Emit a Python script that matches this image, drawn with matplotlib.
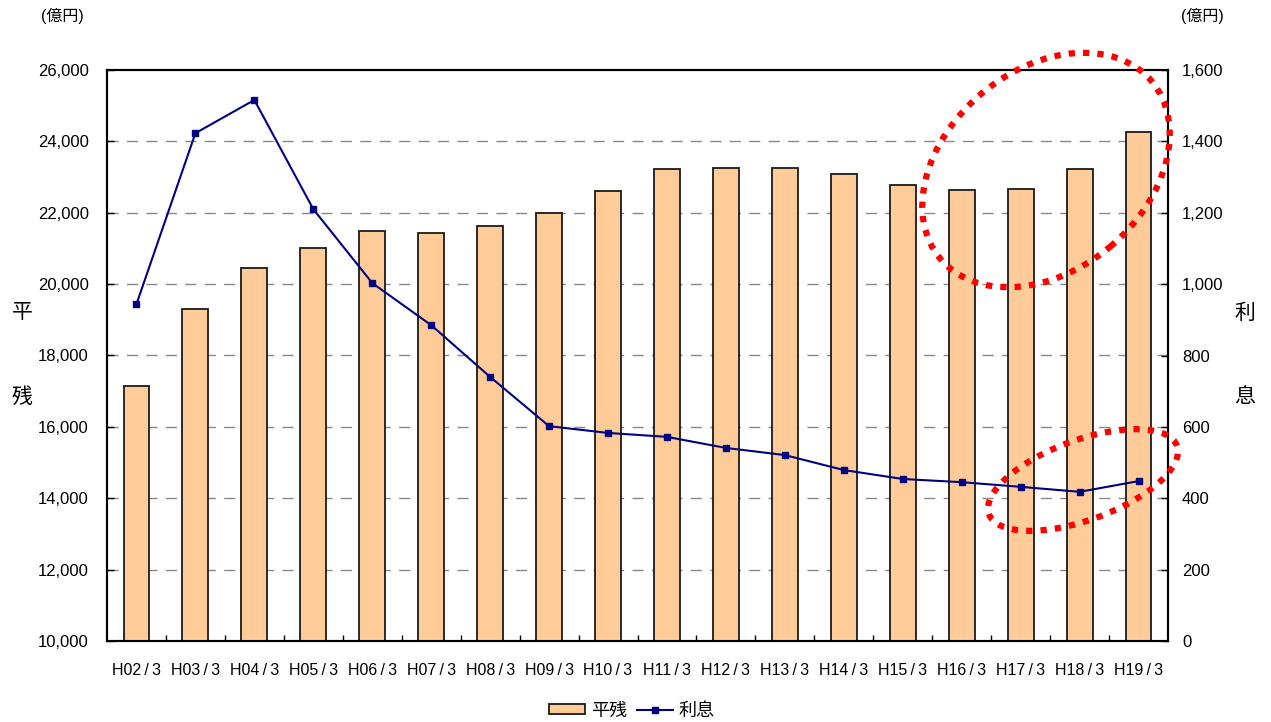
import matplotlib
matplotlib.use("Agg")
import matplotlib.pyplot as plt
import numpy as np
from matplotlib.patches import Ellipse
from matplotlib.transforms import IdentityTransform
from matplotlib.ticker import FuncFormatter, FixedLocator

plt.rcParams['font.family'] = ['Liberation Sans', 'Noto Sans CJK JP', 'DejaVu Sans']

categories = ["H02/3", "H03/3", "H04/3", "H05/3", "H06/3", "H07/3", "H08/3", "H09/3", "H10/3",
              "H11/3", "H12/3", "H13/3", "H14/3", "H15/3", "H16/3", "H17/3", "H18/3", "H19/3"]
heizan = [17150, 19300, 20450, 21000, 21500, 21430, 21630, 22000, 22600,
          23230, 23260, 23260, 23090, 22780, 22640, 22660, 23230, 24260]
rishi = [944, 1423, 1516, 1210, 1003, 885, 740, 602, 583,
         572, 541, 521, 479, 454, 445, 432, 418, 448]

fig = plt.figure(figsize=(12.71, 7.22), dpi=100)
ax = fig.add_axes([107/1271, 81/722, (1168-107)/1271, (641-70)/722])
ax2 = ax.twinx()

x = np.arange(len(categories))
ax.bar(x, heizan, width=0.44, color="#FFCC99", edgecolor="#1a1a1a", linewidth=1.3, zorder=3, label="平残")
ax.set_xlim(-0.5, len(categories) - 0.5)
ax.set_ylim(10000, 26000)
ax.set_yticks(np.arange(10000, 26001, 2000))
ax.yaxis.set_major_formatter(FuncFormatter(lambda v, p: f"{int(v):,}"))
for yv in np.arange(12000, 26000, 2000):
    ax.axhline(yv, color="#888888", linewidth=1.0, linestyle=(0, (8, 6)), zorder=1)

ax2.plot(x, rishi, color="#000080", linewidth=1.5, marker="s", markersize=5, zorder=4, label="利息")
ax2.set_ylim(0, 1600)
ax2.set_yticks(np.arange(0, 1601, 200))
ax2.yaxis.set_major_formatter(FuncFormatter(lambda v, p: f"{int(v):,}"))

ax.set_xticks(x)
ax.set_xticklabels([c.replace("/", "\u2009/\u2009") for c in categories])
ax.xaxis.set_minor_locator(FixedLocator(np.arange(0.5, len(categories) - 0.5, 1)))
ax.tick_params(axis='x', which='major', length=0, pad=16, labelsize=11.5)
ax.tick_params(axis='x', which='minor', direction='in', length=4, width=1)
ax.tick_params(axis='y', direction='in', length=5, width=1, pad=13, labelsize=12)
ax2.tick_params(axis='y', direction='in', length=5, width=1, pad=10, labelsize=12)

for a in (ax, ax2):
    for s in a.spines.values():
        s.set_linewidth(1.5)
        s.set_color("#000000")

# side labels
fig.text(22/1271, 1 - 313/722, "平", fontsize=15, ha='center', va='center')
fig.text(22/1271, 1 - 397/722, "残", fontsize=15, ha='center', va='center')
fig.text(1245/1271, 1 - 313/722, "利", fontsize=15, ha='center', va='center')
fig.text(1245/1271, 1 - 397/722, "息", fontsize=15, ha='center', va='center')
fig.text(62/1271, 1 - 16/722, "(億円)", fontsize=11.5, ha='center', va='center')
fig.text(1202/1271, 1 - 16/722, "(億円)", fontsize=11.5, ha='center', va='center')

# legend
h1, l1 = ax.get_legend_handles_labels()
h2, l2 = ax2.get_legend_handles_labels()
fig.legend(h1 + h2, l1 + l2, loc='center', bbox_to_anchor=(632/1271, 1 - 711/722), ncol=2,
           frameon=False, fontsize=13, handlelength=2.0, handleheight=0.5,
           columnspacing=0.5, handletextpad=0.35)

# red dotted annotation ellipses
e1 = Ellipse((1046, 722 - 170), 276, 200, angle=40, transform=IdentityTransform(),
             fill=False, edgecolor="#FF0000", linewidth=4.5, linestyle=(0, (1, 1.3)), zorder=10)
e2 = Ellipse((1083, 722 - 480), 200, 80, angle=20, transform=IdentityTransform(),
             fill=False, edgecolor="#FF0000", linewidth=4.5, linestyle=(0, (1, 1.3)), zorder=10)
fig.patches.extend([e1, e2])

fig.savefig("out.png", dpi=100)
